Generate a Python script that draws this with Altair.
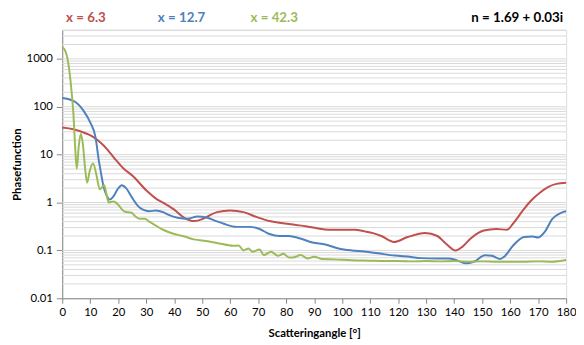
import altair as alt
import pandas as pd

# ---- data ----
red_angle = [0, 4, 9, 11.3, 14.8, 18.3, 21.8, 25.4, 30, 34, 36, 40, 43.6, 47.1, 50, 51.8, 55.3, 60,
             64.7, 69.4, 74, 78.8, 83.5, 87, 91, 95.2, 100, 104.6, 108, 111, 114, 118.5, 123.4,
             129.6, 134, 137, 140.5, 143, 146, 150.6, 155, 158.9, 161, 164.7, 167.5, 170.6,
             173.5, 176.5, 180]
red_val = [37, 34, 27, 23, 15.5, 8.9, 5.2, 3.5, 1.8, 1.15, 1.0, 0.71, 0.48, 0.41, 0.45, 0.51, 0.63,
           0.68, 0.63, 0.5, 0.41, 0.37, 0.34, 0.32, 0.29, 0.27, 0.27, 0.27, 0.25, 0.23, 0.2, 0.15,
           0.19, 0.23, 0.2, 0.14, 0.10, 0.12, 0.18, 0.26, 0.28, 0.27, 0.36, 0.7, 1.1, 1.6, 2.1,
           2.45, 2.6]

blue_angle = [0, 4, 7.7, 10, 11.9, 13, 13.6, 14.8, 16, 17, 18.3, 19.8, 21.3, 22.8, 25, 27, 29, 31,
              33.5, 36, 38, 41.2, 44.7, 48.3, 51.8, 55, 57.7, 62.3, 67, 70.5, 74, 77.6, 81, 84.7,
              89.4, 94, 98.7, 103.4, 108, 112.8, 118.7, 124.6, 128, 134, 138, 141, 144, 147, 151,
              153.5, 156.4, 158, 161, 165, 168, 170, 172.5, 175, 178, 180]
blue_val = [152, 132, 81, 47, 23, 8, 5, 2.1, 1.35, 1.15, 1.35, 1.9, 2.3, 2.0, 1.25, 0.85, 0.7, 0.66,
            0.68, 0.63, 0.55, 0.48, 0.46, 0.51, 0.48, 0.41, 0.36, 0.31, 0.31, 0.28, 0.22, 0.2, 0.2,
            0.18, 0.146, 0.133, 0.11, 0.1, 0.095, 0.087, 0.078, 0.073, 0.069, 0.068, 0.068, 0.062,
            0.054, 0.058, 0.079, 0.077, 0.066, 0.075, 0.125, 0.19, 0.195, 0.186, 0.25, 0.45, 0.6,
            0.66]

green_angle = [0, 1, 1.9, 3, 4, 4.6, 5.2, 5.9, 6.6, 7.3, 8.2, 8.9, 9.8, 11, 12.2, 13.4, 14.3, 15,
               16, 16.6, 18.3, 20, 21.5, 22.4, 24.8, 26, 27.7, 29.5, 31, 32.4, 36, 40, 43, 47, 52,
               56, 61, 63, 64.8, 66.5, 68, 70.5, 72, 74.6, 77, 79, 81, 82.3, 85.2, 87.6, 90, 92.9,
               97, 103.4, 110, 115, 120, 125, 130, 135, 140, 145, 150, 155, 160, 165, 170, 175, 180]
green_val = [1770, 1500, 1000, 330, 70, 15, 5.1, 15, 27, 18, 5, 2.6, 4.5, 6.5, 3.8, 1.9, 2.1, 2.3,
             1.3, 1.0, 1.05, 0.9, 0.7, 0.64, 0.61, 0.52, 0.46, 0.46, 0.40, 0.36, 0.27, 0.22, 0.2,
             0.17, 0.155, 0.14, 0.125, 0.126, 0.1, 0.11, 0.094, 0.104, 0.08, 0.094, 0.077, 0.085,
             0.071, 0.071, 0.08, 0.068, 0.074, 0.066, 0.065, 0.062, 0.061, 0.06, 0.06, 0.059, 0.06,
             0.059, 0.06, 0.058, 0.059, 0.058, 0.058, 0.058, 0.059, 0.058, 0.063]

series_names = ["x = 6.3", "x = 12.7", "x = 42.3"]
series_colors = ["#C0504D", "#4F81BD", "#9BBB59"]

y_ticks = [0.01, 0.1, 1, 10, 100, 1000]
x_ticks = list(range(0, 181, 10))
grid_vals = [d * k for d in [0.01, 0.1, 1, 10, 100, 1000] for k in range(1, 10)
             if d * k <= 4000 and d * k > 0.01]

rows = []
for name, angs, vals in zip(series_names, [red_angle, blue_angle, green_angle],
                            [red_val, blue_val, green_val]):
    for a, v in zip(angs, vals):
        rows.append({"series": name, "angle": a, "value": v})
df = pd.DataFrame(rows)
grid_df = pd.DataFrame({"g": grid_vals})

FONT = "Lato"
W, H = 511, 272

yscale = alt.Scale(type="log", domain=[0.01, 4000], nice=False)
xscale = alt.Scale(domain=[0, 180], nice=False)

y_axis = alt.Axis(values=y_ticks, format="~g", grid=False, title="Phasefunction",
                  labelFontSize=11.5, labelColor="#000", labelFont=FONT,
                  titleFont=FONT, titleFontSize=11.5, titleFontWeight="bold",
                  titleColor="#000", domainColor="#868686", tickColor="#868686",
                  tickSize=6, labelPadding=4, titleX=-40, titleY=136)
x_axis = alt.Axis(values=x_ticks, grid=False, title="Scatteringangle [°]",
                  labelFontSize=11.5, labelColor="#000", labelFont=FONT,
                  titleFont=FONT, titleFontSize=11.5, titleFontWeight="bold",
                  titleColor="#000", domainColor="#868686", tickColor="#868686",
                  tickSize=5, labelPadding=3, titlePadding=10, labelFlush=False)

grid = alt.Chart(grid_df).mark_rule(color="#d9d9d9", strokeWidth=1).encode(
    y=alt.Y("g:Q", scale=yscale, axis=y_axis)
)

lines = alt.Chart(df).mark_line(strokeWidth=2, interpolate="monotone").encode(
    x=alt.X("angle:Q", scale=xscale, axis=x_axis),
    y=alt.Y("value:Q", scale=yscale, axis=y_axis),
    color=alt.Color("series:N", scale=alt.Scale(domain=series_names, range=series_colors),
                    legend=None),
    detail="series:N",
)

labels = []
label_pos = [24, 121, 215]
for name, col, px in zip(series_names, series_colors, label_pos):
    labels.append(alt.Chart(pd.DataFrame({"t": [name]})).mark_text(
        font=FONT, fontSize=13.5, fontWeight="bold", color=col, align="center",
        baseline="middle").encode(x=alt.value(px), y=alt.value(-12), text="t:N"))
labels.append(alt.Chart(pd.DataFrame({"t": ["n = 1.69 + 0.03i"]})).mark_text(
    font=FONT, fontSize=13.5, fontWeight="bold", color="#000", align="right",
    baseline="middle").encode(x=alt.value(508), y=alt.value(-12), text="t:N"))

chart = alt.layer(grid, lines, *labels).properties(
    width=W, height=H,
    autosize=alt.AutoSizeParams(type="none"),
    padding={"left": 55, "top": 20, "right": 10, "bottom": 45},
).configure_view(stroke=None).configure(background="white")

chart.save("out.html", embed_options={"renderer": "svg", "actions": False})
